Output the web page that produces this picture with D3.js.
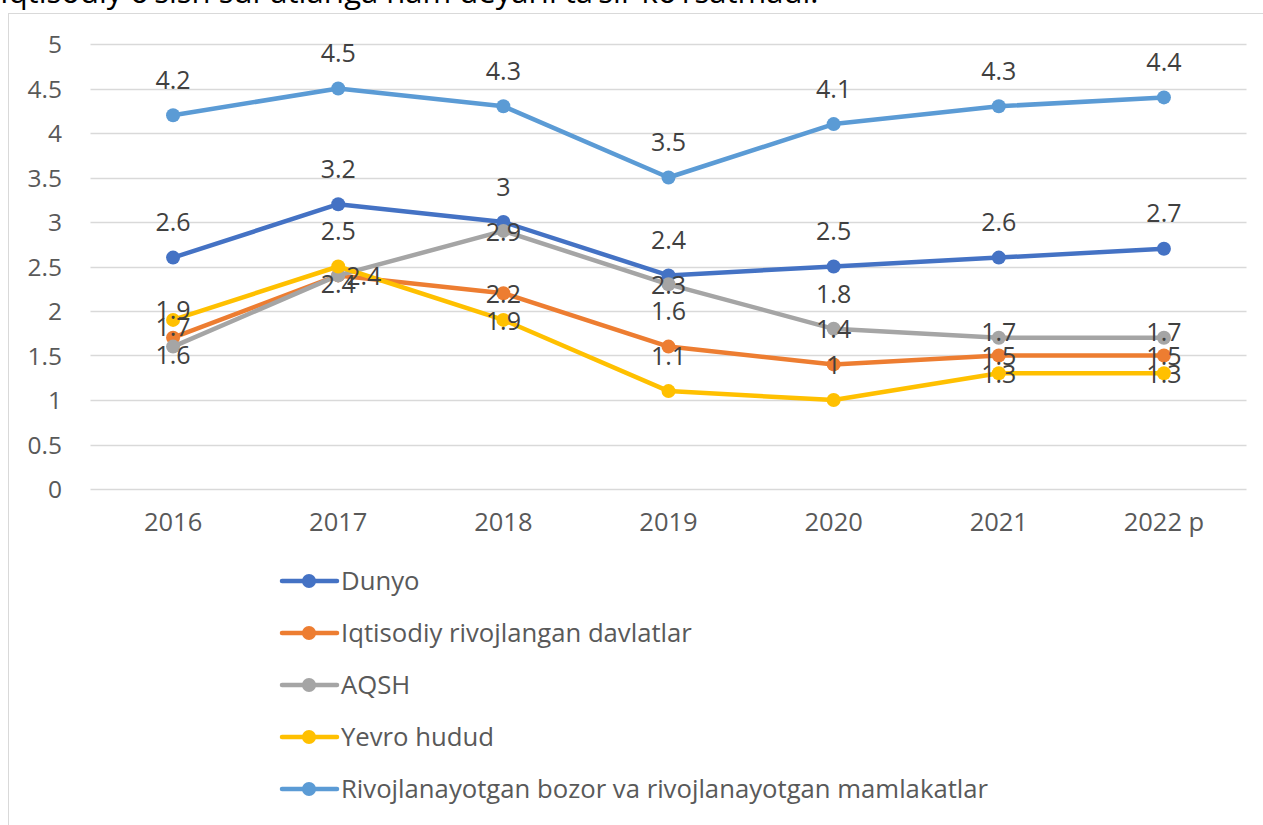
<!DOCTYPE html>
<html><head><meta charset="utf-8">
<script src="https://cdn.jsdelivr.net/npm/d3@7"></script>
<style>
html,body{margin:0;padding:0;background:#fff;overflow:hidden;}
svg{display:block;}
</style></head>
<body>
<svg id="chart" width="1263" height="825"></svg>
<script>
const categories = ["2016","2017","2018","2019","2020","2021","2022 p"];
const yTicks = [0,0.5,1,1.5,2,2.5,3,3.5,4,4.5,5];
const seriesNames = ["Dunyo","Iqtisodiy rivojlangan davlatlar","AQSH","Yevro hudud","Rivojlanayotgan bozor va rivojlanayotgan mamlakatlar"];
const dunyo   = [2.6,3.2,3.0,2.4,2.5,2.6,2.7];
const rivojl  = [1.7,2.4,2.2,1.6,1.4,1.5,1.5];
const aqsh    = [1.6,2.4,2.9,2.3,1.8,1.7,1.7];
const yevro   = [1.9,2.5,1.9,1.1,1.0,1.3,1.3];
const bozor   = [4.2,4.5,4.3,3.5,4.1,4.3,4.4];
const seriesValues = [dunyo, rivojl, aqsh, yevro, bozor];
const colors = ["#4472C4","#ED7D31","#A5A5A5","#FFC000","#5B9BD5"];
// label placement (a = above, c = center, b = below, r = right, n = near above, m = slightly above)
const labelPos = [
  ["a","a","a","a","a","a","a"],
  ["n","r","c","a","a","c","c"],
  ["b","b","c","c","a","m","m"],
  ["n","a","c","a","a","c","c"],
  ["a","a","a","a","a","a","a"]
];
const introText = "Iqtisodiy o\u2018sish sur\u2018atlariga ham deyarli ta\u2019sir ko\u2018rsatmadi.";

const font = "'Open Sans', sans-serif";
const svg = d3.select("#chart");

// intro text clipped at top
svg.append("text").attr("x",0).attr("y",3).attr("font-family",font)
  .attr("font-size",31).attr("fill","#000").text(introText);

// chart frame
svg.append("rect").attr("x",8.5).attr("y",13.5).attr("width",1300).attr("height",900)
  .attr("fill","#fff").attr("stroke","#d9d9d9").attr("stroke-width",1);

const x = d3.scaleBand().domain(categories).range([90.5,1246.5]);
const y = d3.scaleLinear().domain([0,5]).range([489,44]);

// gridlines
svg.append("g").selectAll("line").data(yTicks).join("line")
  .attr("x1",x.range()[0]).attr("x2",x.range()[1])
  .attr("y1",d=>Math.round(y(d))+0.5).attr("y2",d=>Math.round(y(d))+0.5)
  .attr("stroke","#d9d9d9").attr("stroke-width",1.5);

// y axis
const yAxis = svg.append("g").attr("transform","translate(62,0)")
  .call(d3.axisLeft(y).tickValues(yTicks).tickSize(0).tickPadding(0).tickFormat(d=>String(d)));
yAxis.select(".domain").remove();
yAxis.selectAll("text").attr("font-family",font).attr("font-size",24.5).attr("fill","#595959").attr("dy","0.35em");

// x axis
const xAxis = svg.append("g").attr("transform","translate(0,513)")
  .call(d3.axisBottom(x).tickSize(0).tickPadding(0));
xAxis.select(".domain").remove();
xAxis.selectAll("text").attr("font-family",font).attr("font-size",25.5).attr("fill","#595959").attr("dy","0.71em");

const cx = c => x(c) + x.bandwidth()/2;
const line = d3.line().x((d,i)=>cx(categories[i])).y(d=>y(d));

seriesValues.forEach((vals,si)=>{
  const g = svg.append("g");
  g.append("path").datum(vals).attr("d",line).attr("fill","none")
    .attr("stroke",colors[si]).attr("stroke-width",4.5).attr("stroke-linejoin","round").attr("stroke-linecap","round");
  g.selectAll("circle").data(vals).join("circle")
    .attr("cx",(d,i)=>cx(categories[i])).attr("cy",d=>y(d)).attr("r",7).attr("fill",colors[si]);
});

// data labels
seriesValues.forEach((vals,si)=>{
  svg.append("g").selectAll("text").data(vals).join("text")
    .attr("x",(d,i)=>{const p=labelPos[si][i]; return cx(categories[i]) + (p==="r"?8:0);})
    .attr("y",(d,i)=>{
      const p=labelPos[si][i]; const py=y(d);
      if(p==="a") return py-35;
      if(p==="n") return py-10;
      if(p==="m") return py-5;
      if(p==="b") return py+9;
      return py+1;
    })
    .attr("text-anchor",(d,i)=>labelPos[si][i]==="r"?"start":"middle")
    .attr("dy","0.35em")
    .attr("font-family",font).attr("font-size",25).attr("fill","#404040")
    .text(d=>String(d));
});

// legend
const legend = svg.append("g");
seriesNames.forEach((name,i)=>{
  const ly = 581 + i*52;
  const g = legend.append("g");
  g.append("line").attr("x1",282).attr("x2",337).attr("y1",ly).attr("y2",ly)
    .attr("stroke",colors[i]).attr("stroke-width",4.5).attr("stroke-linecap","round");
  g.append("circle").attr("cx",309).attr("cy",ly).attr("r",7).attr("fill",colors[i]);
  g.append("text").attr("x",341).attr("y",ly).attr("dy","0.35em")
    .attr("font-family",font).attr("font-size",25.7).attr("fill","#595959").text(name);
});
</script>
</body></html>
